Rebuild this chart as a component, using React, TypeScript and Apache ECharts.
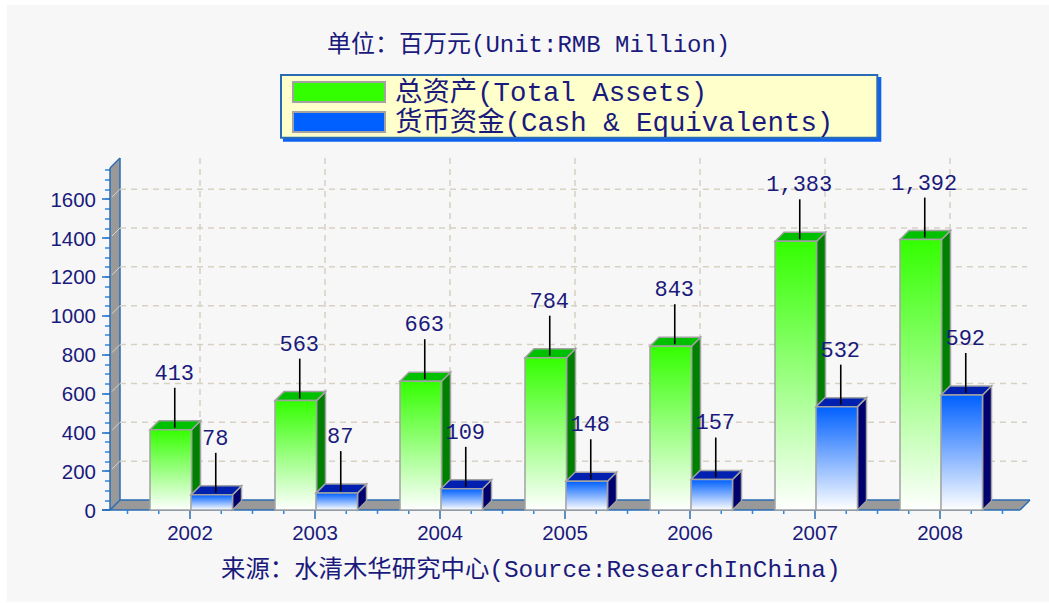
import React, { useEffect, useRef } from "react";
import * as echarts from "echarts";

const years = ["2002", "2003", "2004", "2005", "2006", "2007", "2008"];
const totalAssets = [413, 563, 663, 784, 843, 1383, 1392];
const cashEquivalents = [78, 87, 109, 148, 157, 532, 592];
const assetsName = "总资产(Total Assets)";
const cashName = "货币资金(Cash & Equivalents)";
const unitText = "单位\uFF1A百万元(Unit:RMB Million)";
const sourceText = "来源\uFF1A水清木华研究中心(Source:ResearchInChina)";
const yTicks = [0, 200, 400, 600, 800, 1000, 1200, 1400, 1600];

const NAVY = "#1a1a7c";
const AXIS = "#2a6cb4";
const MONO = '"Liberation Mono","Noto Sans CJK SC",monospace';
const D = 10;
const BD = 9;

function frameItem(_: any, api: any) {
  const x = (c: number) => api.coord([c, 0])[0];
  const y = (v: number) => api.coord([0, v])[1];
  const bandW = x(1) - x(0);
  const left = x(0) - 80;
  const right = x(6) + 80;
  const y0 = y(0);
  const yTop = y(1750) - 2;
  const line = (x1: number, y1: number, x2: number, y2: number, style: any) => ({
    type: "line",
    shape: { x1, y1, x2, y2 },
    style,
  });
  const dash = { stroke: "#d6d1c2", lineWidth: 1.5, lineDash: [6, 5] };
  const blue = { stroke: AXIS, lineWidth: 1.5 };
  const children: any[] = [
    {
      type: "polygon",
      shape: { points: [[left, y0], [left, yTop], [left + D, yTop - D], [left + D, y0 - D]] },
      style: { fill: "#999999" },
    },
    {
      type: "polygon",
      shape: { points: [[left, y0], [right, y0], [right + D, y0 - D], [left + D, y0 - D]] },
      style: { fill: "#999999" },
    },
    line(left, y0, left, yTop, blue),
    line(left, yTop, left + D, yTop - D, blue),
    line(left + D, yTop - D, left + D, y0 - D, blue),
    line(left + D, y0 - D, right + D, y0 - D, blue),
    line(right, y0, right + D, y0 - D, blue),
    line(left, y0, left + D, y0 - D, blue),
    line(left - 8, y0, right, y0, blue),
  ];
  yTicks.forEach((v) => {
    if (v > 0) {
      children.push(line(left + D, y(v) - D, right + D - 3, y(v) - D, dash));
      children.push(line(left + 2, y(v) - 2, left + D, y(v) - D, { stroke: "#d8d4c8", lineWidth: 1 }));
    }
  });
  years.forEach((_y, i) => {
    children.push(line(x(i) + D, yTop - D, x(i) + D, y0 - D, dash));
  });
  for (let c = -0.5; c <= 6.5; c += 0.25) {
    if (Number.isInteger(c)) continue;
    children.push(line(c * bandW + x(0), y0, c * bandW + x(0), y0 + 4, { stroke: "#2a86e0", lineWidth: 1.5 }));
  }
  return { type: "group", children };
}

function barItem(colors: any, side: number) {
  return (params: any, api: any) => {
    const idx = api.value(0);
    const val = api.value(1);
    const [cx, top] = api.coord([idx, val]);
    const [, bottom] = api.coord([idx, 0]);
    const bandW = api.size([1, 0])[0];
    const w = bandW * 0.332;
    const l = side < 0 ? cx - w + 1.5 : cx + 1;
    const r = l + w;
    const border = { stroke: "#a2a2a2", lineWidth: 1.5, lineJoin: "miter" };
    const lx = l + w / 2 + 4;
    const text = val.toLocaleString("en-US");
    return {
      type: "group",
      children: [
        {
          type: "polygon",
          shape: { points: [[r, top], [r + BD, top - BD], [r + BD, bottom - BD], [r, bottom]] },
          style: { fill: colors.side, ...border },
        },
        {
          type: "polygon",
          shape: { points: [[l, top], [l + BD, top - BD], [r + BD, top - BD], [r, top]] },
          style: { fill: colors.top, ...border },
        },
        {
          type: "rect",
          shape: { x: l, y: top, width: w, height: bottom - top },
          style: {
            fill: new echarts.graphic.LinearGradient(0, 0, 0, 1, [
              { offset: 0, color: colors.front },
              { offset: 1, color: "#ffffff" },
            ]),
            ...border,
          },
        },
        {
          type: "line",
          shape: { x1: lx, y1: top - 2, x2: lx, y2: top - 42 },
          style: { stroke: "#000000", lineWidth: 1.6 },
        },
        {
          type: "text",
          x: lx - 0.5,
          y: top - 55.5,
          style: {
            text,
            fill: NAVY,
            font: `22px ${MONO}`,
            align: "center",
            verticalAlign: "middle",
          },
        },
      ],
    };
  };
}

const makeData = (values: number[]) => values.map((v, i) => [i, v]);

export default function App() {
  const ref = useRef<HTMLDivElement>(null);
  useEffect(() => {
    const chart = echarts.init(ref.current!, undefined, { renderer: "svg" });
    chart.setOption({
      animation: false,
      backgroundColor: "#ffffff",
      graphic: [
        {
          type: "rect",
          z: -10,
          silent: true,
          shape: { x: 7, y: 5, width: 1042, height: 597 },
          style: { fill: "#f7f7f7" },
        },
      ],
      title: [
        {
          text: unitText,
          left: 327,
          top: 33,
          padding: 0,
          textStyle: { fontFamily: MONO, fontSize: 24, fontWeight: "normal", color: NAVY },
        },
        {
          text: sourceText,
          left: 221,
          top: 558,
          padding: 0,
          textStyle: { fontFamily: MONO, fontSize: 24.4, fontWeight: "normal", color: NAVY },
        },
      ],
      legend: {
        orient: "vertical",
        left: 281,
        top: 75,
        data: [
          { name: assetsName, icon: "rect" },
          { name: cashName, icon: "rect" },
        ],
        itemWidth: 92,
        itemHeight: 20,
        itemGap: -1.4,
        padding: [1.3, 44, 0, 11],
        backgroundColor: "#ffffcc",
        borderColor: "#2a6cb4",
        borderWidth: 2,
        shadowColor: "#0a64f0",
        shadowOffsetX: 3,
        shadowOffsetY: 3,
        shadowBlur: 0,
        selectedMode: false,
        formatter: "{t|{name}}",
        textStyle: {
          rich: {
            t: {
              fontFamily: MONO,
              fontSize: 27.4,
              color: NAVY,
              lineHeight: 20,
              padding: [4, 0, 0, 5],
            },
          },
        },
      },
      grid: { left: 127.5, top: 170, width: 875, height: 340 },
      xAxis: {
        type: "category",
        data: years,
        boundaryGap: true,
        axisLine: { show: false },
        axisTick: { show: true, alignWithLabel: true, length: 9, lineStyle: { color: AXIS, width: 1.5 } },
        axisLabel: { fontFamily: "Liberation Sans", fontSize: 20.5, color: NAVY, margin: 12 },
        splitLine: { show: false },
      },
      yAxis: [
        {
          type: "value",
          min: 0,
          max: 1750,
          interval: 50,
          offset: 17.5,
          position: "left",
          axisLine: { show: false },
          axisTick: { show: true, length: 8, customValues: yTicks, lineStyle: { color: AXIS, width: 1.5 } },
          axisLabel: {
            customValues: yTicks,
            formatter: (v: number) => String(v),
            fontFamily: "Liberation Sans",
            fontSize: 20.5,
            color: NAVY,
            margin: 14,
          },
          splitLine: { show: false },
        },
        {
          type: "value",
          min: 0,
          max: 1750,
          interval: 50,
          offset: 17.5,
          position: "left",
          axisLine: { show: false },
          axisTick: { show: true, length: 5, lineStyle: { color: "#2a86e0", width: 1.5 } },
          axisLabel: { show: false },
          splitLine: { show: false },
        },
      ],
      series: [
        {
          type: "custom",
          name: "frame",
          z: 1,
          data: [[0, 0]],
          encode: { x: 0, y: 1 },
          renderItem: frameItem,
        },
        {
          type: "custom",
          name: assetsName,
          z: 2,
          data: makeData(totalAssets),
          encode: { x: 0, y: 1 },
          itemStyle: { color: "#33ff00", borderColor: "#a2a2a2", borderWidth: 2 },
          renderItem: barItem({ front: "#33ff00", top: "#00c000", side: "#008000" }, -1),
        },
        {
          type: "custom",
          name: cashName,
          z: 3,
          data: makeData(cashEquivalents),
          encode: { x: 0, y: 1 },
          itemStyle: { color: "#0060ff", borderColor: "#a2a2a2", borderWidth: 2 },
          renderItem: barItem({ front: "#0060ff", top: "#0020b0", side: "#00006e" }, 1),
        },
      ],
    });
    return () => chart.dispose();
  }, []);
  return <div ref={ref} style={{ position: "fixed", left: 0, top: 0, width: 1049, height: 603 }} />;
}
